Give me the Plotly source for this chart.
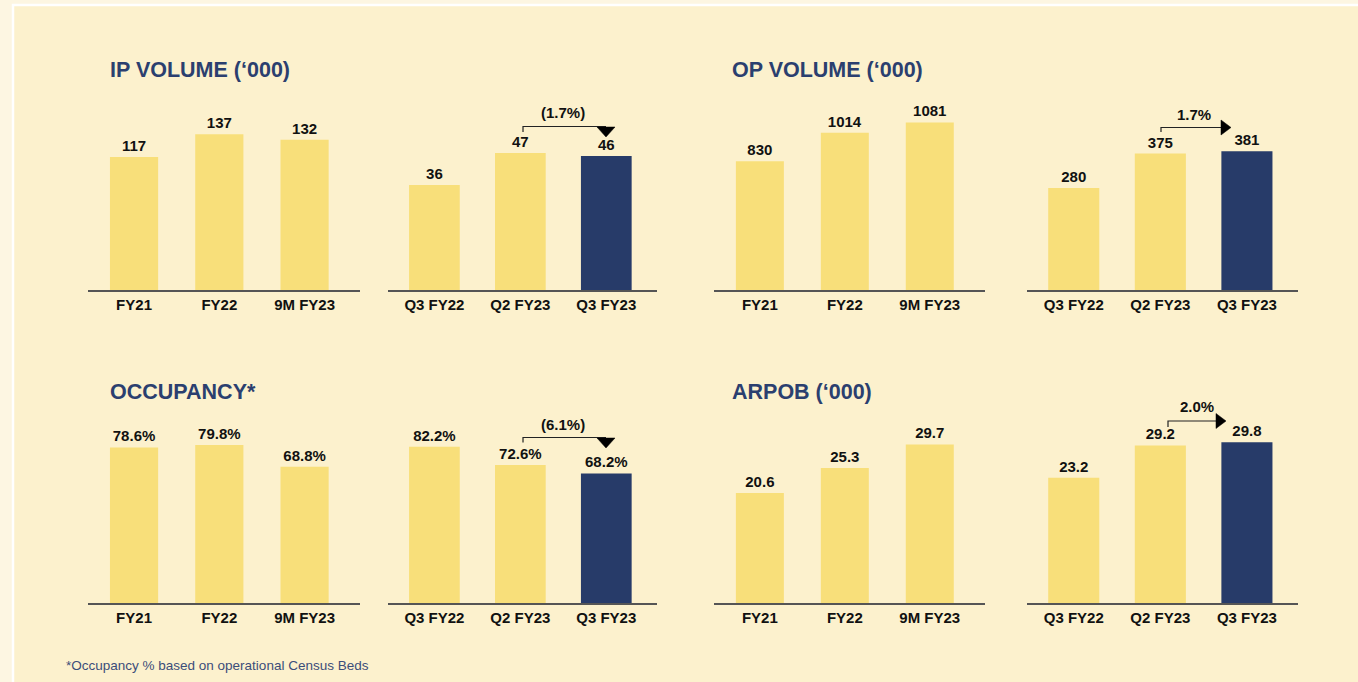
import plotly.graph_objects as go

W, H = 1358, 682

# ---------------- data ----------------
annual_cats = ["FY21", "FY22", "9M FY23"]
quarter_cats = ["Q3 FY22", "Q2 FY23", "Q3 FY23"]

ip_annual = [117, 137, 132]
ip_quarter = [36, 47, 46]
op_annual = [830, 1014, 1081]
op_quarter = [280, 375, 381]
occ_annual = [78.6, 79.8, 68.8]
occ_quarter = [82.2, 72.6, 68.2]
arpob_annual = [20.6, 25.3, 29.7]
arpob_quarter = [23.2, 29.2, 29.8]

titles = ["IP VOLUME (‘000)", "OP VOLUME (‘000)", "OCCUPANCY*", "ARPOB (‘000)"]
changes = ["(1.7%)", "1.7%", "(6.1%)", "2.0%"]
footnote = "*Occupancy % based on operational Census Beds"

# ---------------- style ----------------
YELLOW = "#f8df7a"
NAVY = "#273b69"
TITLE_C = "#2b3f6f"
INNER_BG = "#fcf1cd"
OUTER_BG = "#fdf6e2"
FONT = "Liberation Sans, Arial, sans-serif"


def px(x):
    return x / W


def py(y):
    return 1 - y / H


fig = go.Figure()

panels = [
    (ip_annual, annual_cats, (88, 360), 290, 167, False),
    (ip_quarter, quarter_cats, (388, 657), 290, 65.2, False),
    (op_annual, annual_cats, (714, 985), 290, 1226, False),
    (op_quarter, quarter_cats, (1027, 1298), 290, 522, False),
    (occ_annual, annual_cats, (88, 360), 603, 96, True),
    (occ_quarter, quarter_cats, (388, 657), 603, 100, True),
    (arpob_annual, annual_cats, (714, 985), 603, 35.6, False),
    (arpob_quarter, quarter_cats, (1027, 1298), 603, 35.2, False),
]

layout_axes = {}
for i, (vals, cats, (x0, x1), yax, rmax, pct) in enumerate(panels):
    n = i + 1
    xa = "x" if n == 1 else f"x{n}"
    ya = "y" if n == 1 else f"y{n}"
    quarterly = cats is quarter_cats
    colors = [YELLOW, YELLOW, NAVY] if quarterly else [YELLOW] * 3
    if pct:
        texts = [f"{v:.1f}%" for v in vals]
    else:
        texts = [f"{v:g}" for v in vals]
    fig.add_trace(go.Bar(
        x=list(range(len(cats))), y=vals, xaxis=xa, yaxis=ya,
        marker=dict(color=colors, line=dict(width=0)),
        width=0.59 if quarterly else 0.565,
        text=texts, textposition="outside", cliponaxis=False,
        textfont=dict(family=FONT, size=15, color="#111111", weight=700),
        hoverinfo="skip", showlegend=False,
    ))
    xr = [-0.54, 2.59] if quarterly else [-0.54, 2.65]
    key_x = "xaxis" if n == 1 else f"xaxis{n}"
    key_y = "yaxis" if n == 1 else f"yaxis{n}"
    layout_axes[key_x] = dict(
        domain=[px(x0), px(x1)], anchor=ya, range=xr,
        tickmode="array", tickvals=list(range(len(cats))), ticktext=cats,
        tickfont=dict(family=FONT, size=15, color="#111111", weight=700),
        showline=True, linecolor="#555555", linewidth=1.5,
        showgrid=False, zeroline=False, ticks="", ticklabelstandoff=0,
        fixedrange=True,
    )
    layout_axes[key_y] = dict(
        domain=[py(yax), py(yax - 190)], anchor=xa, range=[0, rmax],
        visible=False, showgrid=False, zeroline=False, fixedrange=True,
    )

fig.update_layout(**layout_axes)

shapes = [
    dict(type="rect", xref="paper", yref="paper",
         x0=px(13), x1=px(W + 5), y0=py(H + 5), y1=py(5),
         fillcolor=INNER_BG, line=dict(color="#ffffff", width=2.5), layer="below"),
]

annotations = []

for t, (x, y) in zip(titles, [(108, 70), (730, 70), (108, 392), (730, 392)]):
    annotations.append(dict(
        text=t, x=px(x), y=py(y), xref="paper", yref="paper",
        xanchor="left", yanchor="middle", showarrow=False,
        font=dict(family=FONT, size=21.5, color=TITLE_C, weight=700),
    ))

for t, (x, y) in zip(changes, [(563, 113), (1194, 115), (563, 424), (1197, 406)]):
    annotations.append(dict(
        text=t, x=px(x), y=py(y), xref="paper", yref="paper",
        xanchor="center", yanchor="middle", showarrow=False,
        font=dict(family=FONT, size=15, color="#111111", weight=700),
    ))


def path_px(points, closed=False):
    s = "M " + " L ".join(f"{px(x):.5f},{py(y):.5f}" for x, y in points)
    if closed:
        s += " Z"
    return s


brackets = [
    [(523, 132), (523, 126.5), (606, 126.5)],
    [(1161, 132), (1161, 127.5), (1222, 127.5)],
    [(523, 442.5), (523, 437.5), (606, 437.5)],
    [(1168, 427), (1168, 421), (1217, 421)],
]
tris = [
    [(597, 127), (615, 127), (606, 137)],
    [(1221, 120), (1221, 135), (1231, 127.5)],
    [(597, 438), (615, 438), (606, 448)],
    [(1216, 413.5), (1216, 428.5), (1226, 421)],
]
for b in brackets:
    shapes.append(dict(type="path", xref="paper", yref="paper", path=path_px(b),
                       line=dict(color="#222222", width=1.2)))
for tr in tris:
    shapes.append(dict(type="path", xref="paper", yref="paper", path=path_px(tr, True),
                       fillcolor="#000000", line=dict(color="#000000", width=0.5)))

annotations.append(dict(
    text=footnote, x=px(64), y=py(665), xref="paper", yref="paper",
    xanchor="left", yanchor="middle", showarrow=False,
    font=dict(family=FONT, size=13.5, color="#3b4d7a"),
))

fig.update_layout(
    width=W, height=H,
    margin=dict(l=0, r=0, t=0, b=0),
    paper_bgcolor=OUTER_BG, plot_bgcolor="rgba(0,0,0,0)",
    shapes=shapes, annotations=annotations,
)

fig.write_html(
    "out.html",
    config={"displayModeBar": False},
    post_script="document.body.style.margin='0';document.body.style.background='#fdf6e2';",
)
